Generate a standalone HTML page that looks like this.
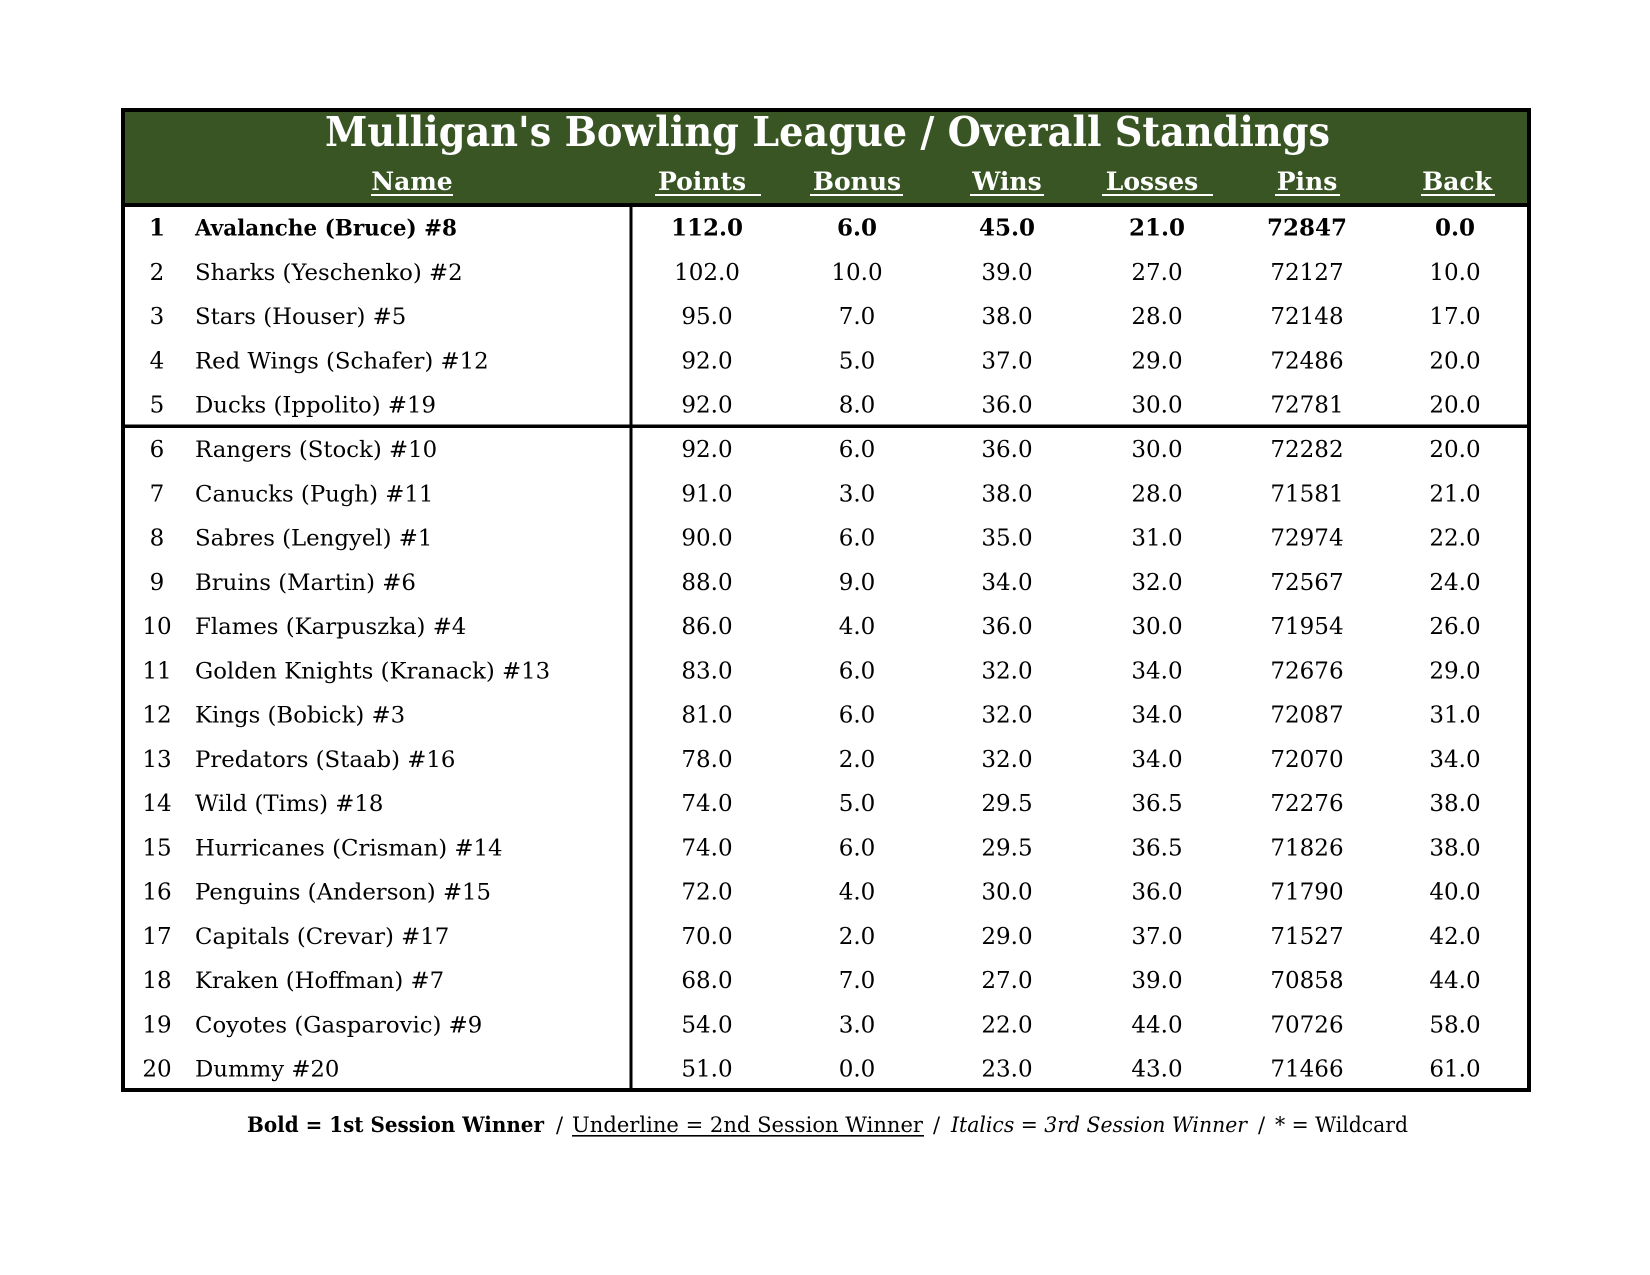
<!DOCTYPE html>
<html><head><meta charset="utf-8"><style>
html,body{margin:0;padding:0;background:#fff;}
svg{display:block;}
text{font-family:"DejaVu Serif","Liberation Serif",serif;}
.r{font-size:23px;fill:#000;}
.n{font-size:22.8px;fill:#000;}
.v{font-size:23px;fill:#000;text-anchor:middle;}
.b{font-weight:bold;}
.h{font-size:25px;font-weight:bold;fill:#fff;text-anchor:middle;}
</style></head><body>
<svg width="1650" height="1275" viewBox="0 0 1650 1275" xmlns="http://www.w3.org/2000/svg">
<rect x="0" y="0" width="1650" height="1275" fill="#fff"/>
<!-- header -->
<rect x="121" y="108" width="1410" height="99" fill="#395524"/>
<rect x="121" y="108" width="1410" height="4" fill="#000"/>
<rect x="121" y="203" width="1410" height="4" fill="#000"/>
<rect x="121" y="108" width="4" height="984" fill="#000"/>
<rect x="1527" y="108" width="4" height="984" fill="#000"/>
<rect x="121" y="1088" width="1410" height="4" fill="#000"/>
<rect x="629.5" y="207" width="3" height="881" fill="#000"/>
<rect x="125" y="424.5" width="1402" height="3.5" fill="#000"/>

<text x="325" y="146" font-size="41" font-weight="bold" fill="#fff" textLength="1005" lengthAdjust="spacingAndGlyphs">Mulligan's Bowling League / Overall Standings</text>

<text class="h" x="412" y="190">Name</text>
<text class="h" x="702" y="190">Points</text>
<text class="h" x="857" y="190">Bonus</text>
<text class="h" x="1007" y="190">Wins</text>
<text class="h" x="1152" y="190">Losses</text>
<text class="h" x="1307" y="190">Pins</text>
<text class="h" x="1457" y="190">Back</text>
<g fill="#fff">
<rect x="371" y="194" width="82" height="2"/>
<rect x="655" y="194" width="106" height="2"/>
<rect x="810" y="194" width="93" height="2"/>
<rect x="970" y="194" width="74" height="2"/>
<rect x="1102" y="194" width="111" height="2"/>
<rect x="1275" y="194" width="65" height="2"/>
<rect x="1421" y="194" width="74" height="2"/>
</g>

<!-- row 1 bold -->
<g class="b">
<text class="r b" x="157" y="235.7" text-anchor="middle">1</text>
<text class="n b" x="195" y="235.7" textLength="262" lengthAdjust="spacingAndGlyphs">Avalanche (Bruce) #8</text>
<text class="v b" x="707" y="235.7">112.0</text>
<text class="v b" x="857" y="235.7">6.0</text>
<text class="v b" x="1007" y="235.7">45.0</text>
<text class="v b" x="1157" y="235.7">21.0</text>
<text class="v b" x="1307" y="235.7">72847</text>
<text class="v b" x="1455" y="235.7">0.0</text>
</g>

<g>
<text class="r" x="157" y="280" text-anchor="middle">2</text><text class="n" x="195" y="280">Sharks (Yeschenko) #2</text>
<text class="v" x="707" y="280">102.0</text><text class="v" x="857" y="280">10.0</text><text class="v" x="1007" y="280">39.0</text><text class="v" x="1157" y="280">27.0</text><text class="v" x="1307" y="280">72127</text><text class="v" x="1455" y="280">10.0</text>

<text class="r" x="157" y="324.2" text-anchor="middle">3</text><text class="n" x="195" y="324.2">Stars (Houser) #5</text>
<text class="v" x="707" y="324.2">95.0</text><text class="v" x="857" y="324.2">7.0</text><text class="v" x="1007" y="324.2">38.0</text><text class="v" x="1157" y="324.2">28.0</text><text class="v" x="1307" y="324.2">72148</text><text class="v" x="1455" y="324.2">17.0</text>

<text class="r" x="157" y="368.5" text-anchor="middle">4</text><text class="n" x="195" y="368.5">Red Wings (Schafer) #12</text>
<text class="v" x="707" y="368.5">92.0</text><text class="v" x="857" y="368.5">5.0</text><text class="v" x="1007" y="368.5">37.0</text><text class="v" x="1157" y="368.5">29.0</text><text class="v" x="1307" y="368.5">72486</text><text class="v" x="1455" y="368.5">20.0</text>

<text class="r" x="157" y="412.7" text-anchor="middle">5</text><text class="n" x="195" y="412.7">Ducks (Ippolito) #19</text>
<text class="v" x="707" y="412.7">92.0</text><text class="v" x="857" y="412.7">8.0</text><text class="v" x="1007" y="412.7">36.0</text><text class="v" x="1157" y="412.7">30.0</text><text class="v" x="1307" y="412.7">72781</text><text class="v" x="1455" y="412.7">20.0</text>

<text class="r" x="157" y="457" text-anchor="middle">6</text><text class="n" x="195" y="457">Rangers (Stock) #10</text>
<text class="v" x="707" y="457">92.0</text><text class="v" x="857" y="457">6.0</text><text class="v" x="1007" y="457">36.0</text><text class="v" x="1157" y="457">30.0</text><text class="v" x="1307" y="457">72282</text><text class="v" x="1455" y="457">20.0</text>

<text class="r" x="157" y="501.3" text-anchor="middle">7</text><text class="n" x="195" y="501.3">Canucks (Pugh) #11</text>
<text class="v" x="707" y="501.3">91.0</text><text class="v" x="857" y="501.3">3.0</text><text class="v" x="1007" y="501.3">38.0</text><text class="v" x="1157" y="501.3">28.0</text><text class="v" x="1307" y="501.3">71581</text><text class="v" x="1455" y="501.3">21.0</text>

<text class="r" x="157" y="545.5" text-anchor="middle">8</text><text class="n" x="195" y="545.5">Sabres (Lengyel) #1</text>
<text class="v" x="707" y="545.5">90.0</text><text class="v" x="857" y="545.5">6.0</text><text class="v" x="1007" y="545.5">35.0</text><text class="v" x="1157" y="545.5">31.0</text><text class="v" x="1307" y="545.5">72974</text><text class="v" x="1455" y="545.5">22.0</text>

<text class="r" x="157" y="589.8" text-anchor="middle">9</text><text class="n" x="195" y="589.8">Bruins (Martin) #6</text>
<text class="v" x="707" y="589.8">88.0</text><text class="v" x="857" y="589.8">9.0</text><text class="v" x="1007" y="589.8">34.0</text><text class="v" x="1157" y="589.8">32.0</text><text class="v" x="1307" y="589.8">72567</text><text class="v" x="1455" y="589.8">24.0</text>

<text class="r" x="157" y="634" text-anchor="middle">10</text><text class="n" x="195" y="634">Flames (Karpuszka) #4</text>
<text class="v" x="707" y="634">86.0</text><text class="v" x="857" y="634">4.0</text><text class="v" x="1007" y="634">36.0</text><text class="v" x="1157" y="634">30.0</text><text class="v" x="1307" y="634">71954</text><text class="v" x="1455" y="634">26.0</text>

<text class="r" x="157" y="678.3" text-anchor="middle">11</text><text class="n" x="195" y="678.3">Golden Knights (Kranack) #13</text>
<text class="v" x="707" y="678.3">83.0</text><text class="v" x="857" y="678.3">6.0</text><text class="v" x="1007" y="678.3">32.0</text><text class="v" x="1157" y="678.3">34.0</text><text class="v" x="1307" y="678.3">72676</text><text class="v" x="1455" y="678.3">29.0</text>

<text class="r" x="157" y="722.6" text-anchor="middle">12</text><text class="n" x="195" y="722.6">Kings (Bobick) #3</text>
<text class="v" x="707" y="722.6">81.0</text><text class="v" x="857" y="722.6">6.0</text><text class="v" x="1007" y="722.6">32.0</text><text class="v" x="1157" y="722.6">34.0</text><text class="v" x="1307" y="722.6">72087</text><text class="v" x="1455" y="722.6">31.0</text>

<text class="r" x="157" y="766.8" text-anchor="middle">13</text><text class="n" x="195" y="766.8">Predators (Staab) #16</text>
<text class="v" x="707" y="766.8">78.0</text><text class="v" x="857" y="766.8">2.0</text><text class="v" x="1007" y="766.8">32.0</text><text class="v" x="1157" y="766.8">34.0</text><text class="v" x="1307" y="766.8">72070</text><text class="v" x="1455" y="766.8">34.0</text>

<text class="r" x="157" y="811.1" text-anchor="middle">14</text><text class="n" x="195" y="811.1">Wild (Tims) #18</text>
<text class="v" x="707" y="811.1">74.0</text><text class="v" x="857" y="811.1">5.0</text><text class="v" x="1007" y="811.1">29.5</text><text class="v" x="1157" y="811.1">36.5</text><text class="v" x="1307" y="811.1">72276</text><text class="v" x="1455" y="811.1">38.0</text>

<text class="r" x="157" y="855.3" text-anchor="middle">15</text><text class="n" x="195" y="855.3">Hurricanes (Crisman) #14</text>
<text class="v" x="707" y="855.3">74.0</text><text class="v" x="857" y="855.3">6.0</text><text class="v" x="1007" y="855.3">29.5</text><text class="v" x="1157" y="855.3">36.5</text><text class="v" x="1307" y="855.3">71826</text><text class="v" x="1455" y="855.3">38.0</text>

<text class="r" x="157" y="899.6" text-anchor="middle">16</text><text class="n" x="195" y="899.6">Penguins (Anderson) #15</text>
<text class="v" x="707" y="899.6">72.0</text><text class="v" x="857" y="899.6">4.0</text><text class="v" x="1007" y="899.6">30.0</text><text class="v" x="1157" y="899.6">36.0</text><text class="v" x="1307" y="899.6">71790</text><text class="v" x="1455" y="899.6">40.0</text>

<text class="r" x="157" y="943.9" text-anchor="middle">17</text><text class="n" x="195" y="943.9">Capitals (Crevar) #17</text>
<text class="v" x="707" y="943.9">70.0</text><text class="v" x="857" y="943.9">2.0</text><text class="v" x="1007" y="943.9">29.0</text><text class="v" x="1157" y="943.9">37.0</text><text class="v" x="1307" y="943.9">71527</text><text class="v" x="1455" y="943.9">42.0</text>

<text class="r" x="157" y="988.1" text-anchor="middle">18</text><text class="n" x="195" y="988.1">Kraken (Hoffman) #7</text>
<text class="v" x="707" y="988.1">68.0</text><text class="v" x="857" y="988.1">7.0</text><text class="v" x="1007" y="988.1">27.0</text><text class="v" x="1157" y="988.1">39.0</text><text class="v" x="1307" y="988.1">70858</text><text class="v" x="1455" y="988.1">44.0</text>

<text class="r" x="157" y="1032.4" text-anchor="middle">19</text><text class="n" x="195" y="1032.4">Coyotes (Gasparovic) #9</text>
<text class="v" x="707" y="1032.4">54.0</text><text class="v" x="857" y="1032.4">3.0</text><text class="v" x="1007" y="1032.4">22.0</text><text class="v" x="1157" y="1032.4">44.0</text><text class="v" x="1307" y="1032.4">70726</text><text class="v" x="1455" y="1032.4">58.0</text>

<text class="r" x="157" y="1076.6" text-anchor="middle">20</text><text class="n" x="195" y="1076.6">Dummy #20</text>
<text class="v" x="707" y="1076.6">51.0</text><text class="v" x="857" y="1076.6">0.0</text><text class="v" x="1007" y="1076.6">23.0</text><text class="v" x="1157" y="1076.6">43.0</text><text class="v" x="1307" y="1076.6">71466</text><text class="v" x="1455" y="1076.6">61.0</text>
</g>

<!-- footer -->
<g font-size="21" fill="#000">
<text x="247" y="1132" font-weight="bold" textLength="297" lengthAdjust="spacingAndGlyphs">Bold = 1st Session Winner</text>
<text x="556" y="1132">/</text>
<text x="572" y="1132" textLength="351" lengthAdjust="spacingAndGlyphs">Underline = 2nd Session Winner</text>
<rect x="572" y="1135" width="352" height="1.6" fill="#000"/>
<text x="933" y="1132">/</text>
<text x="951" y="1132" font-style="italic" textLength="296" lengthAdjust="spacingAndGlyphs">Italics = 3rd Session Winner</text>
<text x="1258" y="1132">/</text>
<text x="1275" y="1132" textLength="133" lengthAdjust="spacingAndGlyphs">* = Wildcard</text>
</g>
</svg>
</body></html>
